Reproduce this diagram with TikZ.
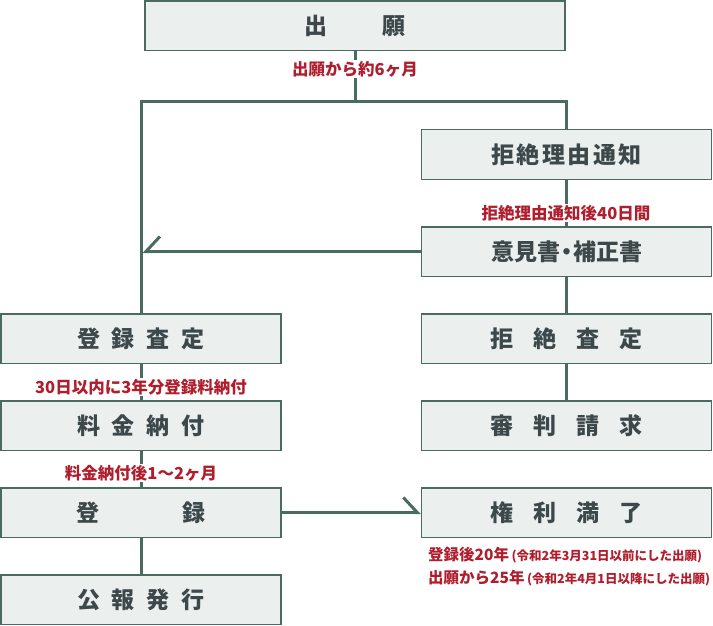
\documentclass[tikz,border=0pt]{standalone}
\usepackage{fontspec}
\newfontfamily\jpfont{Noto Sans CJK JP}
\usetikzlibrary{arrows.meta}
\definecolor{linegreen}{HTML}{4A6B5F}
\definecolor{boxfill}{HTML}{EBEFEE}
\definecolor{boxtext}{HTML}{3D484B}
\definecolor{notered}{HTML}{B01E2D}

\tikzset{
  stage/.style={draw=linegreen, fill=boxfill, line width=1.5pt, minimum height=49.5pt,
    inner sep=0pt, text=boxtext, font=\jpfont\bfseries\fontsize{23}{23}\selectfont},
  leftstage/.style={stage, minimum width=280pt},
  rightstage/.style={stage, minimum width=290pt},
  note/.style={text=notered, fill=white, inner sep=1pt,
    font=\jpfont\bfseries\fontsize{16.5}{17}\selectfont},
  flow/.style={draw=linegreen, line width=3pt},
  halfhead/.style={-{Straight Barb[length=14pt,width=30pt,#1]}},
}

\begin{document}
\begin{tikzpicture}[x=1pt,y=-1pt]
\useasboundingbox (0,0) rectangle (713,626);

% boxes
\node[stage, minimum width=420pt] (app) at (355,26) {出\hspace{56pt}願};
\node[rightstage] (notice) at (566.5,154.5) {\addfontfeatures{LetterSpace=11}拒絶理由通知};
\node[rightstage] (opinion) at (566.5,251.5) {意見書\kern-5pt・\kern-5pt補正書};
\node[rightstage] (rejsat) at (566.5,338.5) {拒\hspace{20pt}絶\hspace{20pt}査\hspace{20pt}定};
\node[rightstage] (appeal) at (566.5,425.5) {審\hspace{20pt}判\hspace{20pt}請\hspace{20pt}求};
\node[rightstage] (expire) at (566.5,512.5) {権\hspace{20pt}利\hspace{20pt}満\hspace{20pt}了};
\node[leftstage] (regsat) at (141,338.5) {登\hspace{12pt}録\hspace{12pt}査\hspace{12pt}定};
\node[leftstage] (payment) at (141,425.5) {料\hspace{12pt}金\hspace{12pt}納\hspace{12pt}付};
\node[leftstage] (reg) at (141,512.5) {登\hspace{83pt}録};
\node[leftstage] (gazette) at (141,599.5) {公\hspace{12pt}報\hspace{12pt}発\hspace{12pt}行};

% connectors
\draw[flow] (app.south) -- ++(0,50) coordinate (split);
\draw[flow] (regsat.north) |- (split) -| (notice.north);
\draw[flow] (notice) -- (opinion);
\draw[flow] (opinion) -- (rejsat);
\draw[flow] (rejsat) -- (appeal);
\draw[flow, halfhead=right, shorten >=1.5pt] (opinion.west) -- (opinion.west -| regsat.north);
\draw[flow] (regsat) -- (payment);
\draw[flow] (payment) -- (reg);
\draw[flow] (reg) -- (gazette);
\draw[flow, halfhead=left] (reg.east) -- (expire.west);

% labels
\node[note] (l1) at (355,69) {出願から約6ヶ月};
\node[note] (l2) at (566,213) {拒絶理由通知後40日間};
\node[note] (l3) at (141,387) {30日以内に3年分登録料納付};
\node[note] (l4) at (141,473) {料金納付後1～2ヶ月};
\node[note, anchor=west, font=\jpfont\bfseries\fontsize{15.5}{16}\selectfont] (l5) at (427,555)
  {登録後20年\,{\fontsize{12.5}{13}\selectfont(令和2年3月31日以前にした出願)}};
\node[note, anchor=west, font=\jpfont\bfseries\fontsize{15.5}{16}\selectfont] (l6) at (427,578)
  {出願から25年\,{\fontsize{12.5}{13}\selectfont(令和2年4月1日以降にした出願)}};
\end{tikzpicture}
\end{document}
